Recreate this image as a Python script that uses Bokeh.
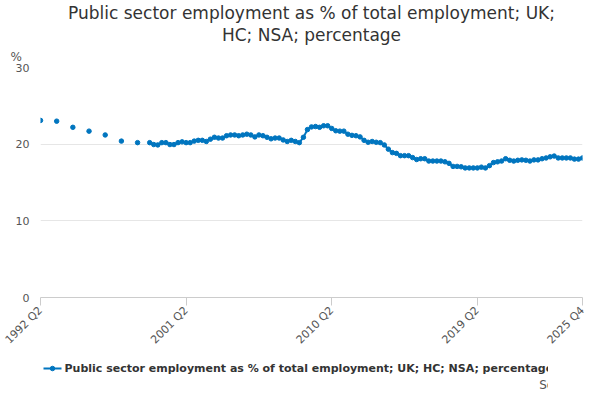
import numpy as np
from bokeh.plotting import figure
from bokeh.layouts import column
from bokeh.models import FixedTicker, Label, ColumnDataSource, Range1d, Title
from bokeh.embed import file_html
from bokeh.resources import INLINE

title_lines = ["Public sector employment as % of total employment; UK;", "HC; NSA; percentage"]
series_name = "Public sector employment as % of total employment; UK; HC; NSA; percentage"

# annual points 1992 Q2 .. 1998 Q2
annual_values = [23.1, 23.0, 22.2, 21.7, 21.2, 20.4, 20.2]
# quarterly 1999 Q1 .. 2025 Q4
quarterly_values = [
    20.2, 19.95, 19.9, 20.2, 20.2, 19.95, 19.95, 20.2, 20.3, 20.2, 20.2, 20.4,
    20.5, 20.5, 20.35, 20.65, 20.9, 20.8, 20.8, 21.1, 21.2, 21.2, 21.1, 21.2,
    21.3, 21.2, 20.95, 21.2, 21.1, 20.9, 20.7, 20.8, 20.8, 20.55, 20.35, 20.5,
    20.35, 20.2, 20.9, 21.9,
    22.25, 22.3, 22.2, 22.4, 22.4, 22.05, 21.75, 21.7, 21.7, 21.3, 21.15, 21.1,
    20.95, 20.5, 20.25, 20.35, 20.25, 20.2, 19.9, 19.35, 18.9, 18.8, 18.5, 18.5,
    18.5, 18.25, 18.0, 18.1, 18.1, 17.8, 17.8, 17.8, 17.8, 17.7, 17.5, 17.1,
    17.1, 17.05, 16.9, 16.9, 16.9, 16.9, 17.0, 16.9, 17.2, 17.6, 17.7, 17.8,
    18.1, 17.9, 17.8, 17.9, 17.95, 17.9, 17.8, 17.95, 17.95, 18.1, 18.2, 18.35,
    18.45, 18.2, 18.2, 18.2, 18.2, 18.05, 18.05, 18.2,
]
tick_labels = ["1992 Q2", "2001 Q2", "2010 Q2", "2019 Q2", "2025 Q4"]

def qidx(label):
    y, q = label.split(" Q")
    return (int(y) - 1992) * 4 + int(q) - 2

annual_x = [qidx(f"{1992 + i} Q2") for i in range(len(annual_values))]
start = qidx("1999 Q1")
quarterly_x = list(range(start, start + len(quarterly_values)))

FONT = "DejaVu Sans"
color = "#0075bf"
p = figure(frame_width=542, frame_height=230, output_backend="svg", toolbar_location=None,
           x_range=Range1d(0, qidx("2025 Q4")), y_range=Range1d(0, 30),
           min_border_left=40, min_border_right=10, min_border_top=8, min_border_bottom=0)
p.outline_line_color = None

src_a = ColumnDataSource(dict(x=annual_x, y=annual_values))
src_q = ColumnDataSource(dict(x=quarterly_x, y=quarterly_values))
p.scatter("x", "y", source=src_a, size=4.5, color=color)
p.line("x", "y", source=src_q, line_width=2, color=color)
p.scatter("x", "y", source=src_q, size=4.5, color=color)

p.xaxis.ticker = FixedTicker(ticks=[qidx(t) for t in tick_labels])
p.xaxis.major_label_overrides = {qidx(t): t for t in tick_labels}
p.xaxis.major_label_orientation = np.pi / 4
p.xaxis.axis_line_color = "#cccccc"
p.xaxis.major_tick_line_color = "#cccccc"
p.xaxis.major_tick_in = 0
p.xaxis.major_tick_out = 8
p.xaxis.minor_tick_line_color = None
p.xaxis.major_label_text_color = "#555555"
p.xaxis.major_label_text_font_size = "11px"
p.xaxis.major_label_text_font = FONT
p.xaxis.major_label_standoff = 3
p.xgrid.grid_line_color = None

p.yaxis.ticker = FixedTicker(ticks=[0, 10, 20, 30])
p.yaxis.axis_line_color = None
p.yaxis.major_tick_line_color = None
p.yaxis.minor_tick_line_color = None
p.yaxis.major_label_text_color = "#555555"
p.yaxis.major_label_text_font_size = "11px"
p.yaxis.major_label_text_font = FONT
p.ygrid.grid_line_color = "#e6e6e6"

p.add_layout(Title(text="%", align="left", text_font=FONT, text_font_size="12px",
                   text_font_style="normal", text_color="#555555", offset=-30, standoff=7), "above")
for line in reversed(title_lines):
    p.add_layout(Title(text=line, align="center", text_font=FONT, text_font_size="17px",
                       text_font_style="normal", text_color="#333333", standoff=0), "above")

# legend strip (swatch + label) and source note; its frame aligns with the chart frame
q = figure(frame_width=548, frame_height=40, output_backend="svg", toolbar_location=None,
           x_range=Range1d(0, 548), y_range=Range1d(0, 40), min_border=0,
           x_axis_location=None, y_axis_location=None)
q.grid.grid_line_color = None
q.outline_line_color = None
swatch = ColumnDataSource(dict(x=[3, 21], y=[26, 26]))
q.line("x", "y", source=swatch, line_width=2, color=color)
q.scatter(x=[12], y=[26], size=4.5, color=color)
q.add_layout(Label(x=24, y=26, text=series_name, text_baseline="middle", text_font=FONT,
                   text_font_size="11px", text_font_style="bold", text_color="#333333"))
q.add_layout(Label(x=544, y=10, text="Source:", text_align="right", text_baseline="middle",
                   text_font=FONT, text_font_size="12px", text_color="#555555"))

open("out.html", "w").write(file_html(column(p, q, spacing=0), INLINE))
